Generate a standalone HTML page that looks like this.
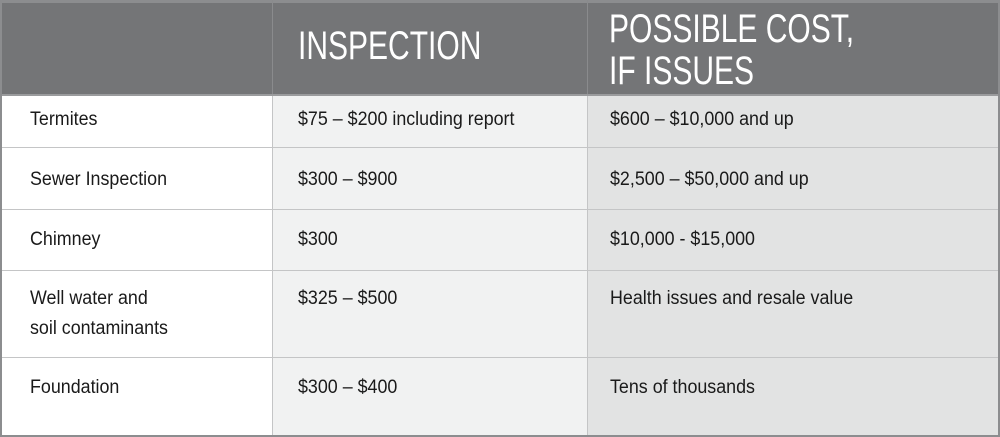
<!DOCTYPE html>
<html><head><meta charset="utf-8"><style>
html,body{margin:0;padding:0;background:#fff}
#t{position:relative;width:1000px;height:437px;overflow:hidden;font-family:"Liberation Sans Narrow","Liberation Sans",sans-serif;color:#1a1a1a}
.c{position:absolute;box-sizing:border-box}
.tx{position:absolute;white-space:nowrap;font-size:19px;line-height:30px;transform:scaleX(0.94);transform-origin:left top}
.h{position:absolute;white-space:nowrap;font-size:40px;line-height:42px;color:#fff;transform:scaleX(0.75);transform-origin:left top}
.hl{position:absolute;left:0;width:1000px;height:1px;background:#c4c5c6}
.vl{position:absolute;width:1px;background:#c4c5c6}
</style></head><body>
<div id="t">
<div class="c" style="left:0;top:0;width:1000px;height:95px;background:#747577;border-top:3px solid #8c8d8f"></div>
<div class="c" style="left:272px;top:95px;width:315px;height:342px;background:#f1f2f2"></div>
<div class="c" style="left:587px;top:95px;width:413px;height:342px;background:#e2e3e3"></div>
<div class="vl" style="left:272px;top:0;height:437px;background:#8a8b8d"></div>
<div class="vl" style="left:587px;top:0;height:437px;background:#8a8b8d"></div>
<div class="vl" style="left:272px;top:95px;height:342px"></div>
<div class="vl" style="left:587px;top:95px;height:342px"></div>
<div class="hl" style="top:94px;height:2px;background:#9a9b9d"></div>
<div class="hl" style="top:147px"></div>
<div class="hl" style="top:209px"></div>
<div class="hl" style="top:270px"></div>
<div class="hl" style="top:357px"></div>
<div class="h" style="left:298px;top:25px">INSPECTION</div>
<div class="h" style="left:609px;top:8px">POSSIBLE COST,<br>IF ISSUES</div>

<div class="tx" style="left:30px;top:105px">Termites</div>
<div class="tx" style="left:298px;top:105px">$75 – $200 including report</div>
<div class="tx" style="left:610px;top:105px">$600 – $10,000 and up</div>

<div class="tx" style="left:30px;top:165px">Sewer Inspection</div>
<div class="tx" style="left:298px;top:165px">$300 – $900</div>
<div class="tx" style="left:610px;top:165px">$2,500 – $50,000 and up</div>

<div class="tx" style="left:30px;top:225px">Chimney</div>
<div class="tx" style="left:298px;top:225px">$300</div>
<div class="tx" style="left:610px;top:225px">$10,000 - $15,000</div>

<div class="tx" style="left:30px;top:284px">Well water and<br>soil contaminants</div>
<div class="tx" style="left:298px;top:284px">$325 – $500</div>
<div class="tx" style="left:610px;top:284px">Health issues and resale value</div>

<div class="tx" style="left:30px;top:373px">Foundation</div>
<div class="tx" style="left:298px;top:373px">$300 – $400</div>
<div class="tx" style="left:610px;top:373px">Tens of thousands</div>

<div class="c" style="left:0;top:0;width:1000px;height:437px;border:2px solid #8c8d8f;border-top:none"></div>
</div>
</body></html>
